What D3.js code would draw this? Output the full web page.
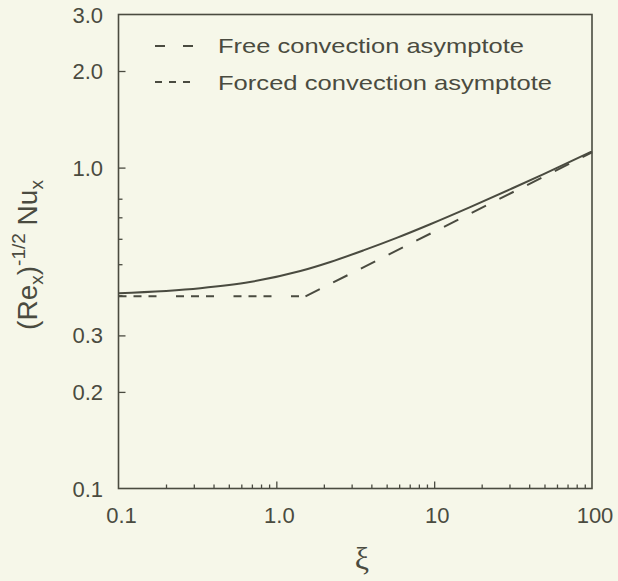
<!DOCTYPE html>
<html>
<head>
<meta charset="utf-8">
<script src="https://cdn.jsdelivr.net/npm/d3@7"></script>
<style>
  html, body { margin: 0; padding: 0; background: #f6f7e9; }
  svg { display: block; }
</style>
</head>
<body>
<svg id="chart" width="618" height="581"></svg>
<script>
// ---- data ----
const xTickValues = [0.1, 1, 10, 100];
const xTickLabels = ["0.1", "1.0", "10", "100"];
const yTickValues = [0.1, 0.2, 0.3, 1.0, 2.0, 3.0];
const yTickLabels = ["0.1", "0.2", "0.3", "1.0", "2.0", "3.0"];
const yMinorValues = [0.4, 0.5, 0.6, 0.7, 0.8];

// full mixed-convection solution (solid)
const exactXi  = [0.1, 0.33, 0.68, 1.42, 2.2, 3.56, 5.84, 9.44, 16.9, 31.6, 49, 100];
const exactNu  = [0.406, 0.421, 0.440, 0.476, 0.508, 0.552, 0.605, 0.666, 0.753, 0.864, 0.953, 1.124];
// forced convection asymptote (short dashes)
const forcedXi = [0.1, 1.53];
const forcedNu = [0.397, 0.397];
// free convection asymptote (long dashes)
const freeXi   = [1.53, 100];
const freeNu   = [0.397, 1.115];

const legendLabels = ["Free convection asymptote", "Forced convection asymptote"];

// ---- layout ----
const ink = "#4a4b40";
const L = 118.5, R = 592, T = 14.5, B = 488.5;
const svg = d3.select("#chart");

const x = d3.scaleLog().domain([0.1, 100]).range([L, R]);
const y = d3.scaleLog().domain([0.1, 3.0]).range([B, T]);

// ---- axes (ticks point inward) ----
const xMinor = x.ticks().filter(v => !xTickValues.some(m => Math.abs(m - v) < 1e-9));
svg.append("g")
  .attr("transform", `translate(0,${B})`)
  .call(d3.axisBottom(x).tickValues(xMinor).tickSize(-4).tickFormat(""))
  .call(g => g.select(".domain").remove())
  .selectAll("line").attr("stroke", ink).attr("stroke-width", 1.3);
svg.append("g")
  .attr("transform", `translate(0,${B})`)
  .call(d3.axisBottom(x).tickValues([1, 10]).tickSize(-7).tickFormat(""))
  .call(g => g.select(".domain").remove())
  .selectAll("line").attr("stroke", ink).attr("stroke-width", 1.3);

svg.append("g")
  .attr("transform", `translate(${L},0)`)
  .call(d3.axisLeft(y).tickValues(yMinorValues).tickSize(-4).tickFormat(""))
  .call(g => g.select(".domain").remove())
  .selectAll("line").attr("stroke", ink).attr("stroke-width", 1.3);
svg.append("g")
  .attr("transform", `translate(${L},0)`)
  .call(d3.axisLeft(y).tickValues([0.2, 0.3, 1.0, 2.0]).tickSize(-7).tickFormat(""))
  .call(g => g.select(".domain").remove())
  .selectAll("line").attr("stroke", ink).attr("stroke-width", 1.3);

// frame
svg.append("rect")
  .attr("x", L).attr("y", T).attr("width", R - L).attr("height", B - T)
  .attr("fill", "none").attr("stroke", ink).attr("stroke-width", 1.6);

// tick labels
const font = "Liberation Sans, Arial, Helvetica, sans-serif";
svg.append("g").selectAll("text").data(xTickValues).join("text")
  .attr("x", d => x(d) + 3).attr("y", 523)
  .attr("text-anchor", "middle")
  .attr("font-family", font).attr("font-size", 22).attr("fill", ink)
  .text((d, i) => xTickLabels[i]);
svg.append("g").selectAll("text").data(yTickValues).join("text")
  .attr("x", 103).attr("y", d => y(d) + 8)
  .attr("text-anchor", "end")
  .attr("font-family", font).attr("font-size", 22).attr("fill", ink)
  .text((d, i) => yTickLabels[i]);

// axis titles
svg.append("text")
  .attr("x", 362).attr("y", 569)
  .attr("text-anchor", "middle")
  .attr("font-family", "Liberation Serif, Times New Roman, serif")
  .attr("font-size", 32).attr("fill", ink)
  .text("ξ");

const yl = svg.append("text")
  .attr("transform", "translate(37,255) rotate(-90)")
  .attr("text-anchor", "middle")
  .attr("font-family", font).attr("font-size", 28).attr("fill", ink);
yl.append("tspan").text("(Re");
yl.append("tspan").attr("font-size", 19).attr("dy", 6).text("x");
yl.append("tspan").attr("dy", -6).text(")");
yl.append("tspan").attr("font-size", 19).attr("dy", -12).text("-1/2");
yl.append("tspan").attr("dy", 12).text(" Nu");
yl.append("tspan").attr("font-size", 19).attr("dy", 6).text("x");

// ---- lines ----
const line = d3.line().x(d => x(d[0])).y(d => y(d[1]));
const zip = (a, b) => a.map((v, i) => [v, b[i]]);

svg.append("path")
  .datum(zip(forcedXi, forcedNu))
  .attr("d", line)
  .attr("fill", "none").attr("stroke", ink).attr("stroke-width", 2)
  .attr("stroke-dasharray", "8,7,8,7,8,19.5");

svg.append("path")
  .datum(zip(freeXi, freeNu))
  .attr("d", line)
  .attr("fill", "none").attr("stroke", ink).attr("stroke-width", 2)
  .attr("stroke-dasharray", "16,15");

svg.append("path")
  .datum(zip(exactXi, exactNu))
  .attr("d", d3.line().x(d => x(d[0])).y(d => y(d[1])).curve(d3.curveMonotoneX))
  .attr("fill", "none").attr("stroke", ink).attr("stroke-width", 2);

// ---- legend ----
const lg = svg.append("g");
lg.append("line").attr("x1", 155).attr("x2", 193).attr("y1", 46).attr("y2", 46)
  .attr("stroke", ink).attr("stroke-width", 2).attr("stroke-dasharray", "10,18");
lg.append("line").attr("x1", 155).attr("x2", 190).attr("y1", 82).attr("y2", 82)
  .attr("stroke", ink).attr("stroke-width", 2).attr("stroke-dasharray", "7,7");
lg.append("text").attr("x", 218).attr("y", 53)
  .attr("font-family", font).attr("font-size", 21).attr("fill", ink)
  .attr("textLength", 306).attr("lengthAdjust", "spacingAndGlyphs")
  .text(legendLabels[0]);
lg.append("text").attr("x", 218).attr("y", 90)
  .attr("font-family", font).attr("font-size", 21).attr("fill", ink)
  .attr("textLength", 334).attr("lengthAdjust", "spacingAndGlyphs")
  .text(legendLabels[1]);
</script>
</body>
</html>
